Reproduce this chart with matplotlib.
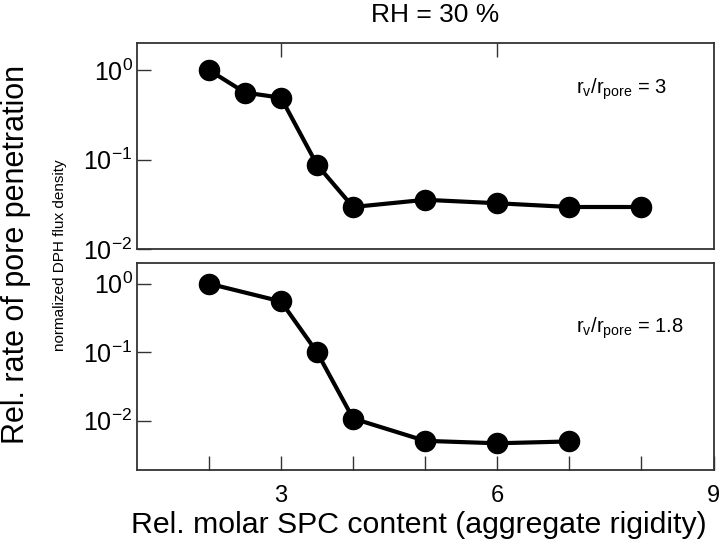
import matplotlib
matplotlib.use("Agg")
import matplotlib.pyplot as plt
from matplotlib.ticker import FixedLocator, NullLocator, FixedFormatter

plt.rcParams["font.family"] = ["Liberation Sans", "DejaVu Sans"]
plt.rcParams["mathtext.fontset"] = "custom"
plt.rcParams["mathtext.rm"] = "Liberation Sans"
plt.rcParams["mathtext.it"] = "Liberation Sans"
plt.rcParams["mathtext.bf"] = "Liberation Sans"

# data
spc_top = [2, 2.5, 3, 3.5, 4, 5, 6, 7, 8]
rate_top = [1.0, 0.56, 0.49, 0.0875, 0.0295, 0.0355, 0.0325, 0.0295, 0.0295]
spc_bot = [2, 3, 3.5, 4, 5, 6, 7]
rate_bot = [1.0, 0.55, 0.10, 0.0108, 0.0051, 0.0047, 0.0050]

ytick_top = [1e-2, 1e-1, 1e0]
ytick_bot = [1e-2, 1e-1, 1e0]
ytick_labels = ["$10^{-2}$", "$10^{-1}$", "$10^{0}$"]
xtick_labels = ["", "3", "", "", "6", "", "", "9"]

spine_col = "#333333"

fig = plt.figure(figsize=(7.2, 5.45), dpi=100)
ax1 = fig.add_axes([0.190, 0.543, 0.801, 0.378])
ax2 = fig.add_axes([0.190, 0.138, 0.801, 0.380])


def style(ax, yticks):
    ax.set_yscale("log")
    ax.set_xlim(1, 9)
    ax.yaxis.set_major_locator(FixedLocator(yticks))
    ax.yaxis.set_major_formatter(FixedFormatter(ytick_labels))
    ax.yaxis.set_minor_locator(NullLocator())
    ax.xaxis.set_minor_locator(NullLocator())
    for s in ax.spines.values():
        s.set_color(spine_col)
        s.set_linewidth(1.3)
    ax.tick_params(axis="y", direction="in", length=10, width=1.0,
                   color=spine_col, labelsize=18, pad=3)


ax1.plot(spc_top, rate_top, "-o", color="black", lw=3.0, ms=14.5)
style(ax1, ytick_top)
ax1.set_ylim(1e-2, 2.0)
ax1.set_xticks([3, 6])
ax1.tick_params(axis="x", direction="in", length=10, width=1.0, color=spine_col,
                bottom=False, top=True, labelbottom=False, labeltop=False)
ax1.text(0.761, 0.775, r"r$_{\mathrm{v}}$/r$_{\mathrm{pore}}$ = 3", transform=ax1.transAxes,
         fontsize=14.5, ha="left", va="center")

ax2.plot(spc_bot, rate_bot, "-o", color="black", lw=3.0, ms=14.5)
style(ax2, ytick_bot)
ax2.set_ylim(1.93e-3, 2.02)
ax2.set_xticks([2, 3, 4, 5, 6, 7, 8, 9])
ax2.set_xticklabels(xtick_labels, fontsize=17)
ax2.tick_params(axis="x", direction="in", length=10, width=1.0, color=spine_col,
                pad=11)
ax2.text(0.761, 0.685, r"r$_{\mathrm{v}}$/r$_{\mathrm{pore}}$ = 1.8", transform=ax2.transAxes,
         fontsize=14.5, ha="left", va="center")

fig.text(0.604, 0.972, "RH = 30 %", ha="center", va="center", fontsize=19)
fig.text(0.581, 0.037, "Rel. molar SPC content (aggregate rigidity)", ha="center",
         va="center", fontsize=21.8)
fig.text(0.022, 0.534, "Rel. rate of pore penetration", rotation=90, ha="center",
         va="center", fontsize=22)
fig.text(0.083, 0.532, "normalized DPH flux density", rotation=90, ha="center",
         va="center", fontsize=11)

fig.savefig("out.png", dpi=100)
